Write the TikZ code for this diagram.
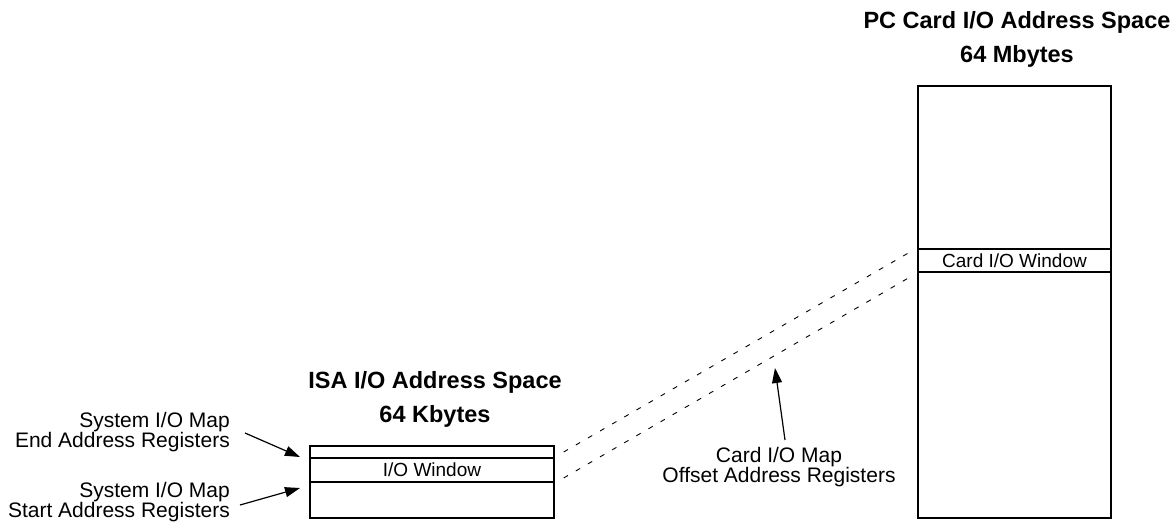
\documentclass[tikz,border=0pt]{standalone}
\usepackage{fontspec}
\setmainfont{Liberation Sans}
\usetikzlibrary{arrows.meta}
\begin{document}
\begin{tikzpicture}[x=1pt,y=-1pt,
  box/.style={draw,line width=2pt,inner sep=0pt,anchor=north west,minimum width=#1},
  lbl/.style={font=\fontsize{21}{20}\selectfont,inner sep=0pt},
  win/.style={font=\fontsize{19}{20}\selectfont},
  ttl/.style={font=\bfseries\fontsize{23.5}{30}\selectfont,inner sep=0pt,anchor=base},
  conn/.style={line width=1.2pt,-{Triangle[length=15pt,width=10pt]}},
  mapline/.style={line width=0.9pt,dash pattern=on 5pt off 9pt,shorten <=10pt,shorten >=10pt}]
\useasboundingbox (0,0) rectangle (1176,523);
% ISA box
\node[box=244pt,minimum height=12pt] (isaTop) at (309,445) {};
\node[box=244pt,minimum height=24pt,win] (isaWin) at (309,457) {I/O Window};
\node[box=244pt,minimum height=36pt] (isaBot) at (309,481) {};
% PC card box
\node[box=193pt,minimum height=163pt] (pcTop) at (917,85) {};
\node[box=193pt,minimum height=23pt,win] (pcWin) at (917,248) {Card I/O Window};
\node[box=193pt,minimum height=246pt] (pcBot) at (917,271) {};
% titles
\node[ttl] (isaT1) at (435,388) {ISA I/O Address Space};
\node[ttl] (isaT2) at (435,422) {64 Kbytes};
\node[ttl] (pcT1) at (1017,28) {PC Card I/O Address Space};
\node[ttl] (pcT2) at (1017,62) {64 Mbytes};
% left labels
\node[lbl,anchor=base east] (endA) at (230,427) {System I/O Map};
\node[lbl,anchor=base east] (endB) at (230,447) {End Address Registers};
\node[lbl,anchor=base east] (startA) at (230,497) {System I/O Map};
\node[lbl,anchor=base east] (startB) at (230,517) {Start Address Registers};
% card label
\node[lbl,anchor=base] (cardA) at (779,462) {Card I/O Map};
\node[lbl,anchor=base] (cardB) at (779,482) {Offset Address Registers};
% arrow coordinates
\coordinate (endTail) at (245,433);
\coordinate (endTip) at (300,457);
\coordinate (startTail) at (240,505);
\coordinate (startTip) at (300,488);
\coordinate (cardTail) at (785,440);
\coordinate (cardTip) at (775,368);
\draw[conn] (endTail) -- (endTip);
\draw[conn] (startTail) -- (startTip);
\draw[conn] (cardTail) -- (cardTip);
% dashed mapping lines
\draw[mapline] (isaWin.north east) -- (pcWin.north west);
\draw[mapline] (isaWin.south east) -- (pcWin.south west);
\end{tikzpicture}
\end{document}
